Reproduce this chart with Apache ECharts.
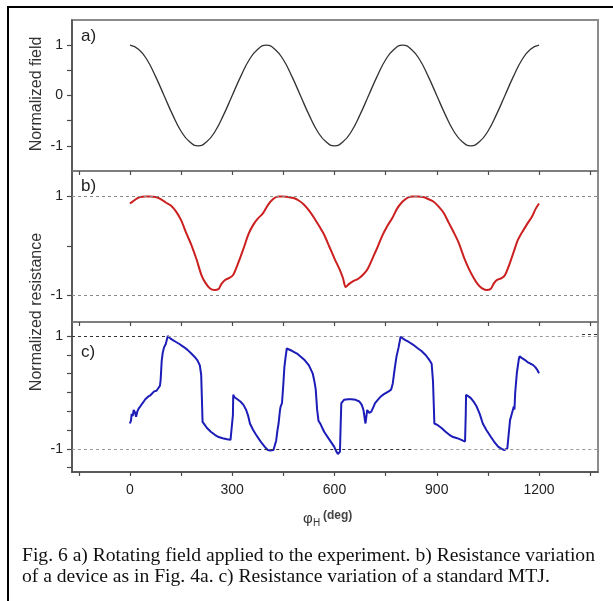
<!DOCTYPE html>
<html><head><meta charset="utf-8">
<script src="https://cdn.jsdelivr.net/npm/echarts@6/dist/echarts.min.js"></script>
<style>html,body{margin:0;padding:0;background:#fff}#c{width:613px;height:601px}</style>
</head><body><div id="c"></div>
<script>
// ---- axis ticks / labels ----
const xTicks = [-150, 0, 150, 300, 450, 600, 750, 900, 1050, 1200, 1350];
const xLabels = [0, 300, 600, 900, 1200];
const yTicksA = [-1, -0.5, 0, 0.5, 1];
const yLabelsA = [-1, 0, 1];
const yTicksB = [-1, 0, 1];
const yLabelsB = [-1, 1];
const yTicksC = [-1.333, -1, -0.667, -0.333, 0, 0.333, 0.667, 1];
const yLabelsC = [-1, 1];

// ---- a) normalized field ----
const phiA = [0,25,50,75,100,125,150,175,200,225,250,275,300,325,350,375,
  400,425,450,475,500,525,550,575,600,625,650,675,700,725,750,775,
  800,825,850,875,900,925,950,975,1000,1025,1050,1075,1100,1125,1150,1175,1200];
const fieldA = [1,0.92,0.71,0.38,0,-0.38,-0.71,-0.92,-1,-0.92,-0.71,-0.38,0,0.38,0.71,0.92,
  1,0.92,0.71,0.38,0,-0.38,-0.71,-0.92,-1,-0.92,-0.71,-0.38,0,0.38,0.71,0.92,
  1,0.92,0.71,0.38,0,-0.38,-0.71,-0.92,-1,-0.92,-0.71,-0.38,0,0.38,0.71,0.92,1];

// ---- b) resistance of device ----
const phiB = [0,10,20,30,45,60,75,90,105,120,135,150,165,180,195,210,222,235,248,260,268,278,290,302,312,322,335,348,362,375,390,405,420,435,450,465,480,495,510,525,540,555,570,585,600,615,625,633,642,655,670,685,698,712,725,740,755,770,785,800,815,830,845,860,875,890,905,920,935,950,965,980,995,1008,1020,1032,1045,1058,1068,1078,1090,1100,1112,1125,1138,1150,1165,1180,1190,1200];
const resB = [0.86,0.91,0.96,0.99,1.0,1.0,0.99,0.95,0.88,0.82,0.70,0.52,0.26,0.02,-0.27,-0.60,-0.76,-0.87,-0.90,-0.88,-0.78,-0.70,-0.66,-0.60,-0.45,-0.27,-0.02,0.24,0.43,0.55,0.66,0.83,0.95,1.0,1.0,0.99,0.97,0.92,0.84,0.72,0.57,0.40,0.22,-0.02,-0.26,-0.48,-0.66,-0.84,-0.78,-0.72,-0.67,-0.58,-0.46,-0.25,-0.05,0.20,0.40,0.57,0.77,0.90,0.98,1.0,1.0,0.99,0.95,0.90,0.80,0.67,0.47,0.27,0.05,-0.24,-0.48,-0.65,-0.78,-0.86,-0.90,-0.88,-0.76,-0.69,-0.66,-0.60,-0.40,-0.14,0.12,0.27,0.44,0.60,0.75,0.86];

// ---- c) resistance of standard MTJ ----
const phiC = [0,3,5,8,11,15,18,22,26,31,37,45,54,60,65,71,78,83,88,90,93,96,100,105,111,118,126,134,145,157,168,180,190,198,205,209,211,213,220,226,238,249,260,272,285,295,300,302,303,306,315,324,333,341,347,352,361,370,380,387,395,404,412,421,425,429,433,436,440,442,446,450,453,456,460,465,475,490,502,513,525,536,541,545,549,553,559,570,582,590,599,605,610,614,616,618,620,628,640,650,662,673,680,685,689,691,694,696,702,708,714,719,727,736,745,759,766,771,775,779,782,788,794,800,808,817,830,845,856,868,878,885,889,893,903,914,925,937,948,960,972,983,985,986,993,1000,1008,1017,1026,1035,1046,1058,1068,1080,1090,1098,1103,1107,1110,1115,1120,1126,1128,1130,1135,1141,1143,1150,1158,1166,1175,1182,1189,1195,1200];
const resC = [-0.55,-0.50,-0.38,-0.42,-0.31,-0.36,-0.43,-0.33,-0.28,-0.24,-0.19,-0.12,-0.07,-0.05,-0.02,0.02,0.03,0.05,0.12,0.22,0.55,0.70,0.80,0.86,1.0,0.96,0.93,0.90,0.86,0.81,0.76,0.69,0.63,0.57,0.48,0.31,-0.10,-0.52,-0.58,-0.63,-0.70,-0.75,-0.79,-0.81,-0.83,-0.84,-0.87,-0.40,-0.04,-0.08,-0.12,-0.16,-0.22,-0.31,-0.42,-0.55,-0.66,-0.75,-0.84,-0.90,-0.96,-1.02,-1.03,-1.02,-0.99,-0.85,-0.66,-0.55,-0.32,-0.25,-0.19,0.15,0.45,0.60,0.78,0.76,0.74,0.69,0.63,0.57,0.48,0.34,0.20,0.05,-0.30,-0.50,-0.56,-0.70,-0.81,-0.88,-0.96,-1.04,-1.09,-1.10,-1.05,-0.60,-0.19,-0.13,-0.12,-0.12,-0.13,-0.16,-0.22,-0.31,-0.48,-0.55,-0.40,-0.31,-0.36,-0.34,-0.26,-0.19,-0.13,-0.07,-0.03,0.02,0.05,0.16,0.35,0.52,0.64,0.80,0.99,0.96,0.93,0.90,0.85,0.78,0.73,0.66,0.58,0.51,0.20,-0.55,-0.58,-0.63,-0.69,-0.75,-0.79,-0.81,-0.84,-0.87,-0.40,-0.04,-0.07,-0.10,-0.16,-0.25,-0.38,-0.55,-0.67,-0.78,-0.87,-0.96,-1.00,-1.02,-1.01,-0.99,-0.80,-0.49,-0.38,-0.25,-0.30,-0.01,0.35,0.60,0.64,0.61,0.58,0.54,0.51,0.49,0.45,0.40,0.34];

const zip = (xs, ys) => xs.map((x, i) => [x, ys[i]]);

const X_MIN = -170, X_MAX = 1373;
const axisDark = '#4a4a4a', borderGray = '#8c8c8c';
const sans = 'Liberation Sans, Arial, sans-serif';
const serif = 'Liberation Serif, Times New Roman, serif';

function xAxis(i, showLabels) {
  return {
    type: 'value', gridIndex: i, min: X_MIN, max: X_MAX,
    axisLine: { show: true, onZero: false, lineStyle: { color: i === 2 ? axisDark : '#7a7a7a', width: 1.5 } },
    axisTick: { show: true, inside: false, length: 4, customValues: xTicks, lineStyle: { color: axisDark, width: 1.2 } },
    axisLabel: { show: showLabels, customValues: xLabels, fontSize: 14, color: '#222', margin: 11, fontFamily: sans,
      formatter: (v) => String(v) },
    splitLine: { show: false }
  };
}
function yAxis(i, min, max, ticks, labels) {
  return {
    type: 'value', gridIndex: i, min: min, max: max,
    axisLine: { show: true, onZero: false, lineStyle: { color: axisDark, width: 1.5 } },
    axisTick: { show: true, inside: false, length: 5, customValues: ticks, lineStyle: { color: axisDark, width: 1.2 } },
    axisLabel: { show: true, customValues: labels, fontSize: 14, color: '#222', margin: 9, fontFamily: sans,
      formatter: (v) => String(v) },
    splitLine: { show: false }
  };
}
const dotted = (color) => ({ type: [3, 3], color: color, width: 1 });

const option = {
  animation: false,
  backgroundColor: '#fff',
  grid: [
    { left: 72, right: 15, top: 20, height: 151, show: true, borderColor: borderGray, borderWidth: 2 },
    { left: 72, right: 15, top: 171, height: 151, show: true, borderColor: borderGray, borderWidth: 2 },
    { left: 72, right: 15, top: 322, height: 150, show: true, borderColor: borderGray, borderWidth: 2 }
  ],
  xAxis: [xAxis(0, false), xAxis(1, false), xAxis(2, true)],
  yAxis: [
    yAxis(0, -1.5, 1.5, yTicksA, yLabelsA),
    yAxis(1, -1.55, 1.52, yTicksB, yLabelsB),
    yAxis(2, -1.41, 1.25, yTicksC, yLabelsC)
  ],
  series: [
    { type: 'line', xAxisIndex: 0, yAxisIndex: 0, data: zip(phiA, fieldA), smooth: true, showSymbol: false,
      lineStyle: { color: '#333', width: 1.3 } },
    { type: 'line', xAxisIndex: 1, yAxisIndex: 1, data: zip(phiB, resB), smooth: 0.3, showSymbol: false,
      lineStyle: { color: '#cc1f1f', width: 2 },
      markLine: { silent: true, symbol: 'none', label: { show: false }, lineStyle: dotted('#8a8a8a'),
        data: [{ yAxis: 1 }, { yAxis: -1 }] } },
    { type: 'line', xAxisIndex: 2, yAxisIndex: 2, data: zip(phiC, resC), showSymbol: false,
      lineStyle: { color: '#1c1cb8', width: 2 },
      markLine: { silent: true, symbol: 'none', label: { show: false }, lineStyle: dotted('#9a9a9a'),
        data: [
          [{ coord: [X_MIN, 1], lineStyle: dotted('#333') }, { coord: [111, 1] }],
          [{ coord: [111, 1] }, { coord: [X_MAX, 1] }],
          [{ coord: [1326, 1.03], lineStyle: dotted('#333') }, { coord: [X_MAX, 1.03] }],
          [{ coord: [X_MIN, -1] }, { coord: [306, -1] }],
          [{ coord: [306, -1], lineStyle: dotted('#333') }, { coord: [834, -1] }],
          [{ coord: [834, -1] }, { coord: [X_MAX, -1] }]
        ] } }
  ],
  graphic: [
    { type: 'polyline', shape: { points: [[8, 601], [8, 7], [613, 7]] }, style: { stroke: '#000', lineWidth: 2, fill: null } },
    { type: 'text', x: 81, y: 36, style: { text: 'a)', fontSize: 17, fontFamily: sans, fill: '#222', verticalAlign: 'middle' } },
    { type: 'text', x: 81, y: 186, style: { text: 'b)', fontSize: 17, fontFamily: sans, fill: '#222', verticalAlign: 'middle' } },
    { type: 'text', x: 81, y: 352, style: { text: 'c)', fontSize: 17, fontFamily: sans, fill: '#222', verticalAlign: 'middle' } },
    { type: 'text', x: 37, y: 94, rotation: Math.PI / 2, style: { text: 'Normalized field', fontSize: 16, fontFamily: sans, fill: '#333', align: 'center', verticalAlign: 'middle' } },
    { type: 'text', x: 37, y: 312, rotation: Math.PI / 2, style: { text: 'Normalized resistance', fontSize: 16, fontFamily: sans, fill: '#333', align: 'center', verticalAlign: 'middle' } },
    { type: 'text', x: 303, y: 519, style: { text: 'φ', fontSize: 15, fontFamily: sans, fill: '#333', verticalAlign: 'middle' } },
    { type: 'text', x: 313, y: 523, style: { text: 'H', fontSize: 10, fontFamily: sans, fill: '#333', verticalAlign: 'middle' } },
    { type: 'text', x: 323, y: 516, style: { text: '(deg)', fontSize: 12, fontWeight: 'bold', fontFamily: sans, fill: '#444', verticalAlign: 'middle' } },
    { type: 'text', x: 22, y: 556, style: { text: 'Fig. 6 a) Rotating field applied to the experiment. b) Resistance variation', fontSize: 19.6, fontFamily: serif, fill: '#111', verticalAlign: 'middle' } },
    { type: 'text', x: 22, y: 577, style: { text: 'of a device as in Fig. 4a. c) Resistance variation of a standard MTJ.', fontSize: 19.6, fontFamily: serif, fill: '#111', verticalAlign: 'middle' } }
  ]
};
echarts.init(document.getElementById('c'), null, { renderer: 'canvas' }).setOption(option);
</script>
</body></html>
